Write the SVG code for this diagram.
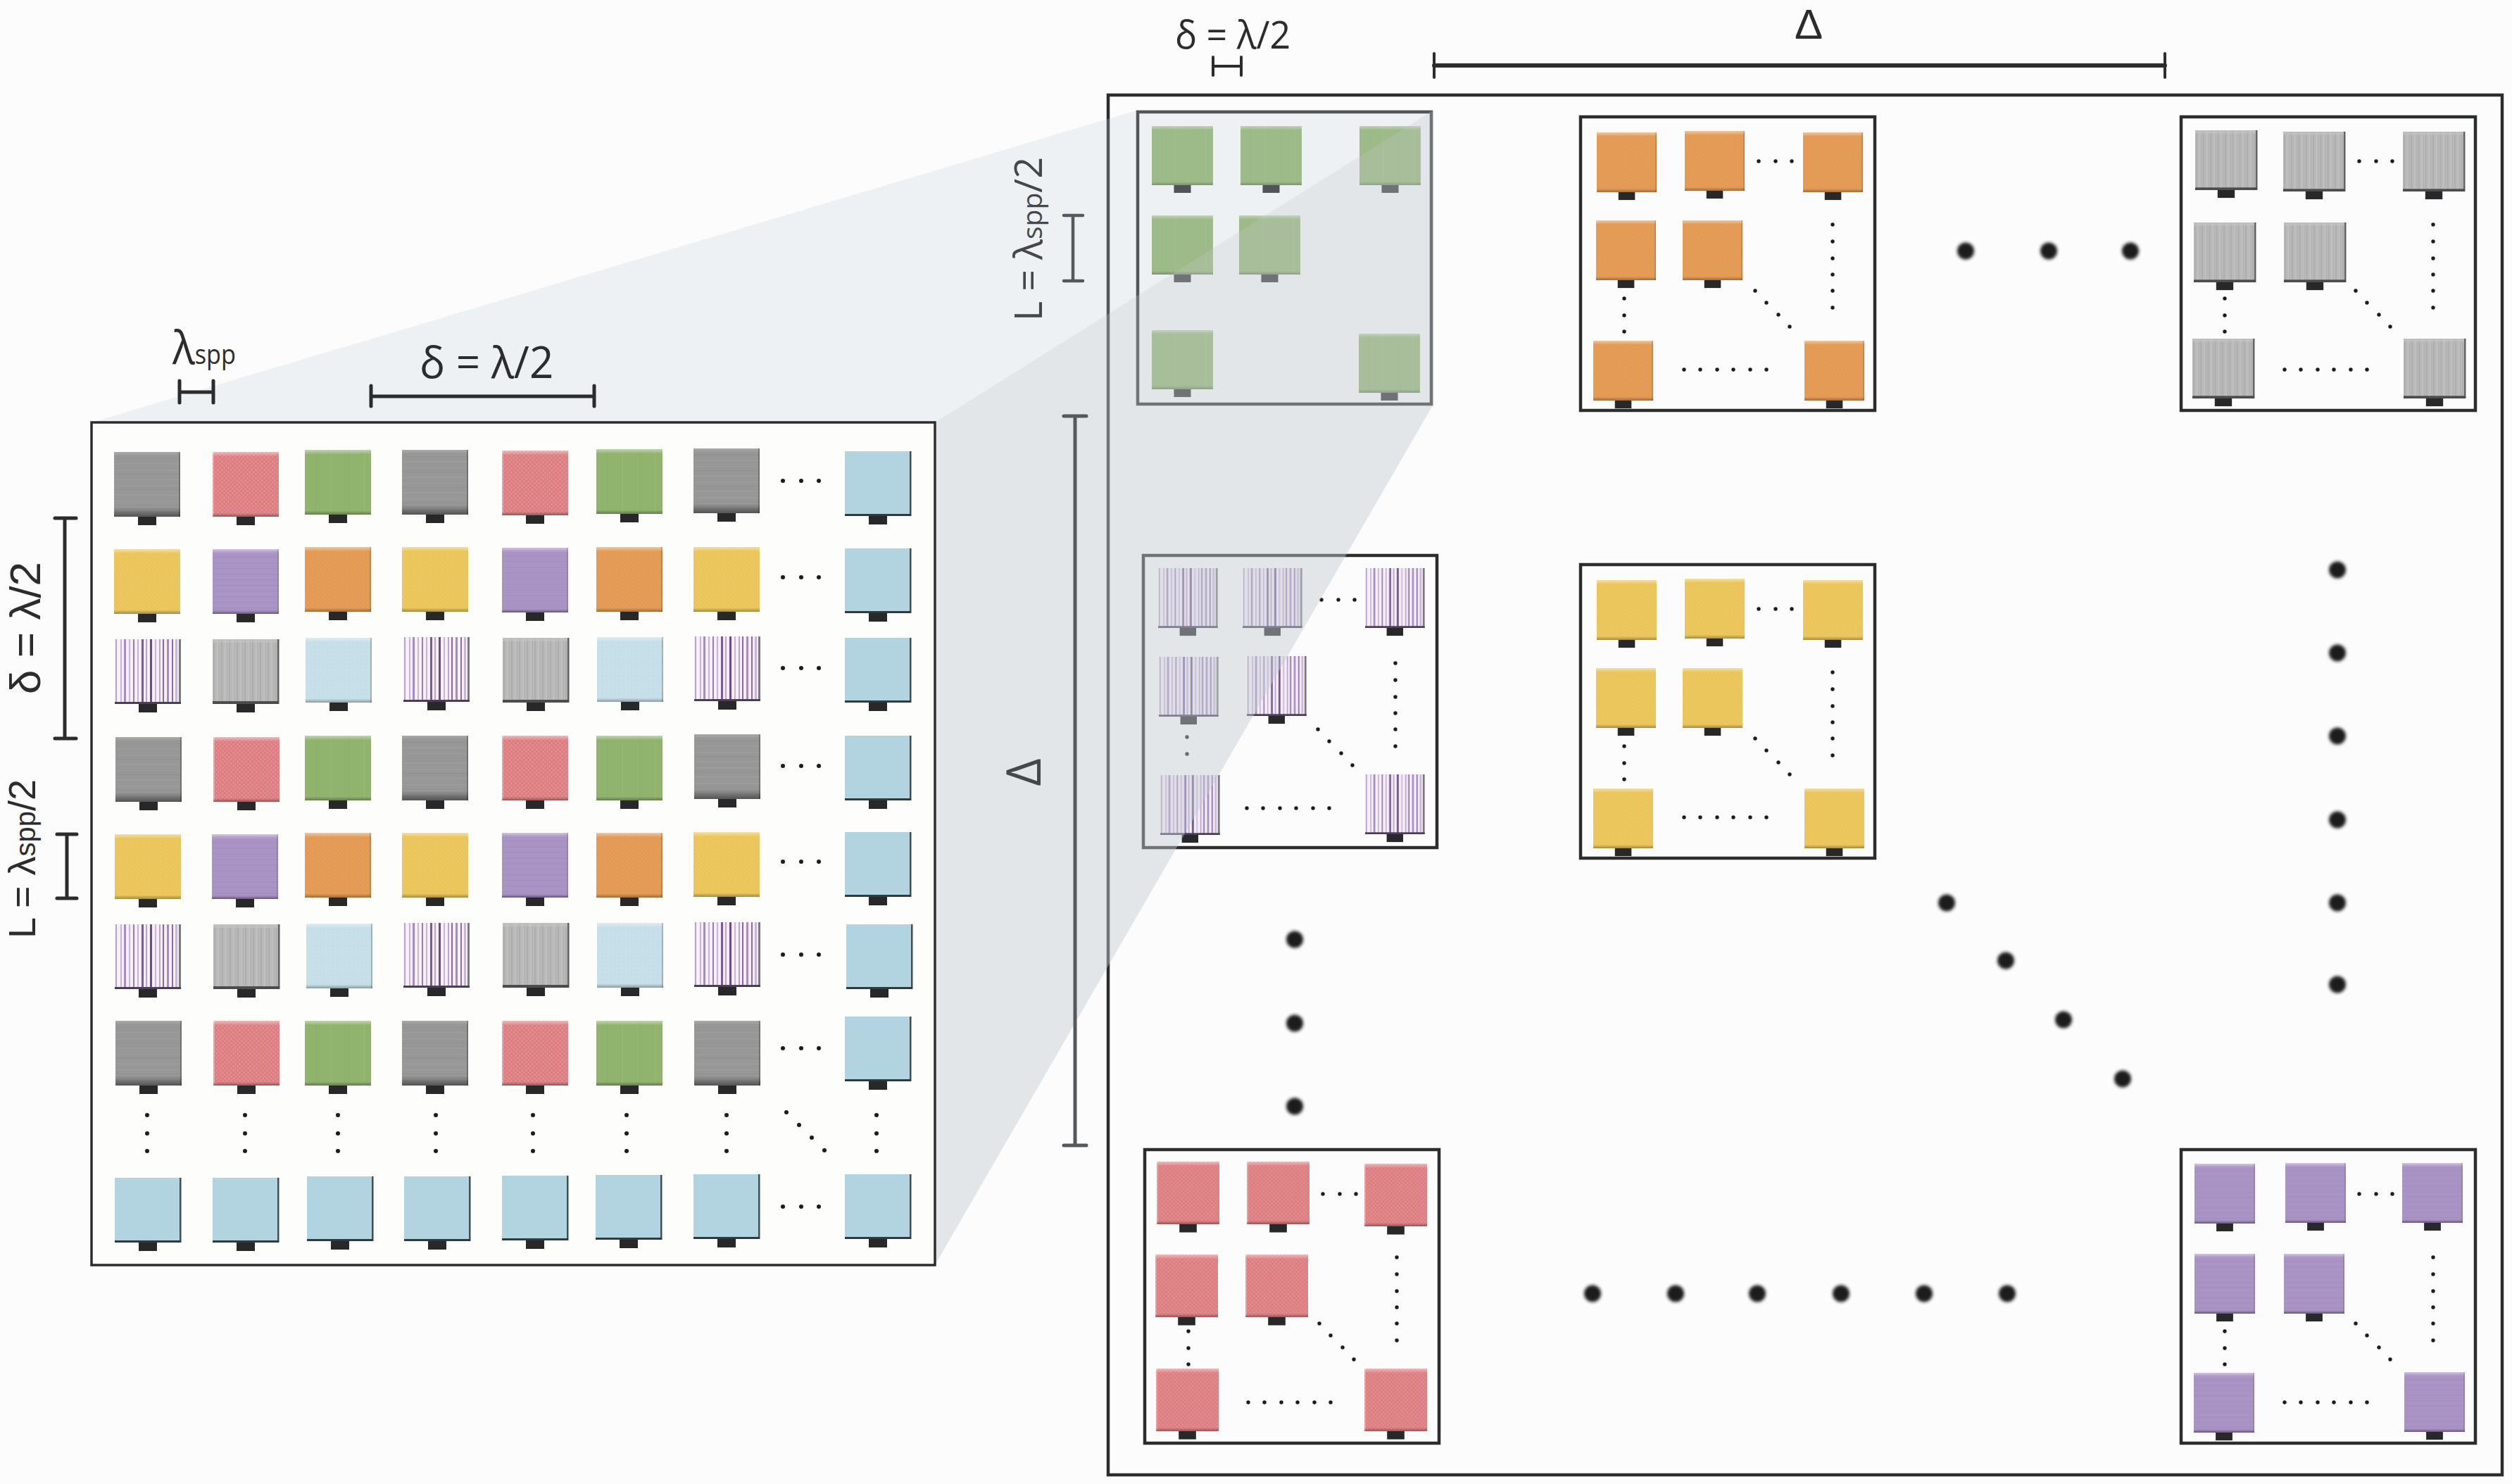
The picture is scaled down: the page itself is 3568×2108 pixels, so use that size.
<svg xmlns="http://www.w3.org/2000/svg" width="3568" height="2108" viewBox="0 0 3568 2108">
<style>
.fr{fill:none;stroke:#2b2c2e;stroke-width:4.5}
.bar{fill:none;stroke:#2b2c2e;stroke-linecap:round}
.barg{fill:none;stroke:#55585c;stroke-linecap:round}
.t{font-family:"Open Sans","DejaVu Sans",sans-serif;fill:#2b2c2e}
.e{font-family:"Liberation Sans","DejaVu Sans",sans-serif;fill:#2b2c2e}
.d{fill:#1c1c1e}
</style>
<defs>
<linearGradient id="bev" x1="0" y1="0" x2="0" y2="1">
<stop offset="0" stop-color="#fff" stop-opacity=".45"/><stop offset=".07" stop-color="#fff" stop-opacity="0"/><stop offset=".94" stop-color="#000" stop-opacity="0"/><stop offset="1" stop-color="#000" stop-opacity=".3"/>
</linearGradient>
<linearGradient id="bevg" x1="0" y1="0" x2="0" y2="1">
<stop offset="0" stop-color="#fff" stop-opacity=".2"/><stop offset=".05" stop-color="#fff" stop-opacity="0"/><stop offset=".85" stop-color="#000" stop-opacity="0"/><stop offset="1" stop-color="#000" stop-opacity=".45"/>
</linearGradient>
<pattern id="pgray" width="94" height="22" patternUnits="userSpaceOnUse"><rect width="94" height="22" fill="#979797"/><rect y="3" width="94" height="1.5" fill="#9d9d9d"/><rect y="9" width="94" height="1" fill="#909090"/><rect y="16" width="94" height="2" fill="#9c9c9c"/></pattern>
<pattern id="pred" width="6" height="6" patternUnits="userSpaceOnUse"><rect width="6" height="6" fill="#dc7e81"/><circle cx="1.5" cy="1.5" r="1.2" fill="#e79396"/><circle cx="4.5" cy="4.5" r="1.2" fill="#e79396"/></pattern>
<pattern id="pyel" width="6" height="6" patternUnits="userSpaceOnUse"><rect width="6" height="6" fill="#ecc75e"/><circle cx="1.5" cy="1.5" r="1" fill="#e7c157"/><circle cx="4.5" cy="4.5" r="1" fill="#e7c157"/></pattern>
<pattern id="pora" width="6" height="6" patternUnits="userSpaceOnUse"><rect width="6" height="6" fill="#e49c56"/><circle cx="1.5" cy="1.5" r="1" fill="#e09650"/><circle cx="4.5" cy="4.5" r="1" fill="#e09650"/></pattern>
<pattern id="ppur" width="94" height="8" patternUnits="userSpaceOnUse"><rect width="94" height="8" fill="#aa94c5"/><rect y="3" width="94" height="1.5" fill="#a48dbf"/></pattern>
<pattern id="pgrn" width="47" height="10" patternUnits="userSpaceOnUse"><rect width="47" height="10" fill="#90b36d"/><rect x="15" width="1" height="10" fill="#8bae68"/><rect x="36" width="1.5" height="10" fill="#95b773"/></pattern>
<pattern id="pgry2" width="11" height="10" patternUnits="userSpaceOnUse"><rect width="11" height="10" fill="#b9b9b9"/><rect x="1" width="2" height="10" fill="#adadad"/><rect x="6" width="1.5" height="10" fill="#c1c1c1"/><rect x="9" width="1" height="10" fill="#b0b0b0"/></pattern>
<pattern id="ppale" width="6" height="6" patternUnits="userSpaceOnUse"><rect width="6" height="6" fill="#c7dfe8"/><circle cx="1.5" cy="1.5" r="1" fill="#c1dae3"/></pattern>
<pattern id="pstr" width="94" height="10" patternUnits="userSpaceOnUse"><rect width="94" height="10" fill="#f6eff8"/>
<rect x="1" width="2" height="10" fill="#b9a3cc"/><rect x="8" width="2" height="10" fill="#c9b5d8"/><rect x="13" width="3" height="10" fill="#a78cc0"/><rect x="20" width="2" height="10" fill="#c9b5d8"/><rect x="26" width="2" height="10" fill="#9a7cb6"/><rect x="32" width="2" height="10" fill="#c9b5d8"/><rect x="38" width="3" height="10" fill="#7c5a9a"/><rect x="44" width="2" height="10" fill="#b9a3cc"/><rect x="50" width="3" height="10" fill="#6d4a8e"/><rect x="57" width="2" height="10" fill="#c9b5d8"/><rect x="63" width="2" height="10" fill="#b9a3cc"/><rect x="68" width="2" height="10" fill="#8a68a8"/><rect x="74" width="3" height="10" fill="#a78cc0"/><rect x="81" width="2" height="10" fill="#8f6cab"/><rect x="86" width="3" height="10" fill="#c9b5d8"/></pattern>
<rect id="foot" x="34" y="92" width="26" height="12" fill="#28282a"/>
<g id="gray"><rect width="94" height="92" fill="url(#pgray)"/><rect width="94" height="92" fill="url(#bevg)"/><rect x="92" width="2" height="92" fill="#000" opacity=".25"/><use href="#foot"/></g>
<g id="red"><rect width="94" height="92" fill="url(#pred)"/><rect width="94" height="92" fill="url(#bev)"/><rect width="2" height="92" fill="#fff" opacity=".25"/><rect y="90" width="94" height="2" fill="#a85a5e" opacity=".7"/><use href="#foot"/></g>
<g id="green"><rect width="94" height="92" fill="url(#pgrn)"/><rect width="94" height="92" fill="url(#bev)"/><use href="#foot"/></g>
<g id="yellow"><rect width="94" height="92" fill="url(#pyel)"/><rect width="94" height="92" fill="url(#bev)"/><use href="#foot"/></g>
<g id="purple"><rect width="94" height="92" fill="url(#ppur)"/><rect width="94" height="92" fill="url(#bev)"/><rect x="92" width="2" height="92" fill="#000" opacity=".12"/><rect y="90" width="94" height="2" fill="#6f5c8c" opacity=".7"/><use href="#foot"/></g>
<g id="orange"><rect width="94" height="92" fill="url(#pora)"/><rect width="94" height="92" fill="url(#bev)"/><rect x="92" width="2" height="92" fill="#000" opacity=".15"/><use href="#foot"/></g>
<g id="lgray"><rect width="94" height="92" fill="url(#pgry2)"/><rect width="94" height="5" fill="#c4c4c4" opacity=".6"/><rect x="92" width="2.5" height="92" fill="#5e5e5e"/><rect y="88" width="94" height="4" fill="#4c4c4c"/><use href="#foot"/></g>
<g id="stripe"><rect width="94" height="92" fill="url(#pstr)"/><rect x="91" width="3" height="92" fill="#7a7a7e"/><rect y="89" width="94" height="3" fill="#4a3f55"/><use href="#foot"/></g>
<g id="pale"><rect width="94" height="92" fill="url(#ppale)"/><rect width="94" height="92" fill="url(#bev)"/><rect x="92" width="2" height="92" fill="#000" opacity=".2"/><use href="#foot"/></g>
<g id="blue"><rect width="94" height="92" fill="#b1d4e0"/><rect width="94" height="6" fill="url(#bev)"/><rect x="92" width="2.5" height="92" fill="#3f4f57"/><rect y="89" width="94" height="3" fill="#2f3a40"/><use href="#foot"/></g>
<g id="subdots" class="d">
<circle cx="253" cy="63" r="2.7"/><circle cx="277" cy="63" r="2.7"/><circle cx="300" cy="63" r="2.7"/>
<circle cx="358" cy="153" r="2.7"/><circle cx="358" cy="177" r="2.7"/><circle cx="358" cy="201" r="2.7"/><circle cx="358" cy="224" r="2.7"/><circle cx="358" cy="247" r="2.7"/><circle cx="358" cy="271" r="2.7"/>
<circle cx="62" cy="258" r="2.7"/><circle cx="62" cy="282" r="2.7"/>
<circle cx="248" cy="247" r="2.7"/><circle cx="264" cy="264" r="2.7"/><circle cx="281" cy="281" r="2.7"/><circle cx="297" cy="298" r="2.7"/>
<circle cx="147" cy="359" r="2.7"/><circle cx="170" cy="359" r="2.7"/><circle cx="194" cy="359" r="2.7"/><circle cx="217" cy="359" r="2.7"/><circle cx="241" cy="359" r="2.7"/><circle cx="264" cy="359" r="2.7"/>
</g>
<g id="dots3"><circle cx="0" r="3" class="d"/><circle cx="26" r="3" class="d"/><circle cx="51" r="3" class="d"/></g>
<g id="vdots3"><circle cy="0" r="3" class="d"/><circle cy="26" r="3" class="d"/><circle cy="51" r="3" class="d"/></g>
<filter id="soft" x="-50%" y="-50%" width="200%" height="200%"><feGaussianBlur stdDeviation="2.2"/></filter>
</defs>
<rect width="3568" height="2108" fill="#fcfcfc"/>

<g id="right-panel">
<rect class="fr" x="1574" y="135" width="1980" height="1960"/>
<g id="big-dots" class="d" filter="url(#soft)" transform="translate(0 1.5)">
<circle cx="2792" cy="355" r="12"/><circle cx="2910" cy="355" r="12"/><circle cx="3026" cy="355" r="12"/>
<circle cx="3320" cy="808" r="12"/><circle cx="3320" cy="926" r="12"/><circle cx="3320" cy="1044" r="12"/><circle cx="3320" cy="1163" r="12"/><circle cx="3320" cy="1281" r="12"/><circle cx="3320" cy="1397" r="12"/>
<circle cx="2765" cy="1281" r="12"/><circle cx="2849" cy="1363" r="12"/><circle cx="2931" cy="1447" r="12"/><circle cx="3015" cy="1531" r="12"/>
<circle cx="2262" cy="1836" r="12"/><circle cx="2380" cy="1836" r="12"/><circle cx="2496" cy="1836" r="12"/><circle cx="2615" cy="1836" r="12"/><circle cx="2733" cy="1836" r="12"/><circle cx="2851" cy="1836" r="12"/>
<circle cx="1839" cy="1333" r="12"/><circle cx="1839" cy="1452" r="12"/><circle cx="1839" cy="1570" r="12"/>
</g>
<g id="box-green" transform="translate(1616 159)"><rect class="fr" width="417" height="415"/>
<use href="#green" transform="translate(20 20) scale(.925 .913)"/><use href="#green" transform="translate(146 20) scale(.925 .913)"/><use href="#green" transform="translate(315 20) scale(.925 .913)"/><use href="#green" transform="translate(20 147) scale(.925 .913)"/><use href="#green" transform="translate(144 147) scale(.925 .913)"/><use href="#green" transform="translate(20 310) scale(.925 .913)"/><use href="#green" transform="translate(314 315) scale(.925 .913)"/></g>
<g id="box-orange" transform="translate(2245 166)"><rect class="fr" width="418" height="417"/>
<use href="#orange" transform="translate(23 22) scale(.905 .924)"/><use href="#orange" transform="translate(148 20) scale(.905 .924)"/><use href="#orange" transform="translate(316 22) scale(.905 .924)"/><use href="#orange" transform="translate(22 147) scale(.905 .924)"/><use href="#orange" transform="translate(145 147) scale(.905 .924)"/><use href="#orange" transform="translate(18 318) scale(.905 .924)"/><use href="#orange" transform="translate(318 318) scale(.905 .924)"/><use href="#subdots"/><circle class="d" cx="62" cy="305" r="2.7"/></g>
<g id="box-gray" transform="translate(3098 166)"><rect class="fr" width="418" height="417"/>
<use href="#lgray" transform="translate(20 19) scale(.936 .924)"/><use href="#lgray" transform="translate(145 21) scale(.936 .924)"/><use href="#lgray" transform="translate(315 21) scale(.936 .924)"/><use href="#lgray" transform="translate(18 150) scale(.936 .924)"/><use href="#lgray" transform="translate(146 150) scale(.936 .924)"/><use href="#lgray" transform="translate(16 315) scale(.936 .924)"/><use href="#lgray" transform="translate(316 315) scale(.936 .924)"/><use href="#subdots"/><circle class="d" cx="62" cy="305" r="2.7"/></g>
<g id="box-stripe" transform="translate(1624 789)"><rect class="fr" width="417" height="415"/>
<use href="#stripe" transform="translate(21 18) scale(.9 .924)"/><use href="#stripe" transform="translate(141 18) scale(.9 .924)"/><use href="#stripe" transform="translate(315 18) scale(.9 .924)"/><use href="#stripe" transform="translate(22 144) scale(.9 .924)"/><use href="#stripe" transform="translate(147 143) scale(.9 .924)"/><use href="#stripe" transform="translate(24 312) scale(.9 .924)"/><use href="#stripe" transform="translate(315 311) scale(.9 .924)"/><use href="#subdots"/></g>
<g id="box-yellow" transform="translate(2245 802)"><rect class="fr" width="418" height="417"/>
<use href="#yellow" transform="translate(23 22) scale(.905 .924)"/><use href="#yellow" transform="translate(148 20) scale(.905 .924)"/><use href="#yellow" transform="translate(316 22) scale(.905 .924)"/><use href="#yellow" transform="translate(22 147) scale(.905 .924)"/><use href="#yellow" transform="translate(145 147) scale(.905 .924)"/><use href="#yellow" transform="translate(18 318) scale(.905 .924)"/><use href="#yellow" transform="translate(318 318) scale(.905 .924)"/><use href="#subdots"/><circle class="d" cx="62" cy="305" r="2.7"/></g>
<g id="box-red" transform="translate(1626 1633)"><rect class="fr" width="418" height="417"/>
<use href="#red" transform="translate(17 17) scale(.947 .967)"/><use href="#red" transform="translate(145 17) scale(.947 .967)"/><use href="#red" transform="translate(312 20) scale(.947 .967)"/><use href="#red" transform="translate(15 149) scale(.947 .967)"/><use href="#red" transform="translate(143 149) scale(.947 .967)"/><use href="#red" transform="translate(16 311) scale(.947 .967)"/><use href="#red" transform="translate(312 311) scale(.947 .967)"/><use href="#subdots"/><circle class="d" cx="62" cy="305" r="2.7"/></g>
<g id="box-purple" transform="translate(3098 1633)"><rect class="fr" width="418" height="417"/>
<use href="#purple" transform="translate(19 20) scale(.915 .924)"/><use href="#purple" transform="translate(148 19) scale(.915 .924)"/><use href="#purple" transform="translate(314 19) scale(.915 .924)"/><use href="#purple" transform="translate(19 148) scale(.915 .924)"/><use href="#purple" transform="translate(146 148) scale(.915 .924)"/><use href="#purple" transform="translate(18 317) scale(.915 .924)"/><use href="#purple" transform="translate(317 316) scale(.915 .924)"/><use href="#subdots"/><circle class="d" cx="62" cy="305" r="2.7"/></g>
</g>

<g id="wedge">
<polygon points="130,600 1614,157 2035,157 1328,600" fill="#c4d0db" opacity=".26"/>
<polygon points="1328,600 2035,157 2035,576 1328,1797" fill="#c6ccd2" opacity=".45"/>
</g>

<g id="right-labels">
<text class="t" transform="translate(1669 69) scale(.96 1)" font-size="54">δ = λ/2</text>
<path class="bar" stroke-width="4" d="M1723 81V107M1763 81V107"/><path class="bar" stroke-width="4" d="M1723 94H1763"/>
<path class="bar" stroke-width="4" d="M2037 76V110M3075 76V110"/><path class="bar" stroke-width="6" d="M2037 93H3075"/>
<text class="e" x="2569" y="55" font-size="60" text-anchor="middle">Δ</text>
<text class="t" style="fill:#44474b" transform="translate(1480 456) rotate(-90)" font-size="54">L = λ<tspan font-size="39">spp</tspan>/2</text>
<path class="barg" stroke-width="4.5" d="M1524 306V399M1511 306H1538M1511 399H1538"/>
<path class="barg" stroke-width="5" d="M1527 591V1627M1511 591H1543M1511 1627H1543"/>
<text class="t" style="fill:#44474b" transform="translate(1478 1097) rotate(-90)" font-size="68" text-anchor="middle">Δ</text>
</g>

<g id="left-panel">
<rect x="130" y="600" width="1198" height="1197" fill="#fdfdfc" stroke="#2b2c2e" stroke-width="3.5"/>
<use href="#gray" x="162" y="642"/><use href="#red" x="302" y="642"/><use href="#green" x="433" y="639"/><use href="#gray" x="571" y="639"/><use href="#red" x="713" y="640"/><use href="#green" x="847" y="638"/><use href="#gray" x="985" y="637"/><use href="#blue" x="1200" y="641"/>
<use href="#yellow" x="162" y="780"/><use href="#purple" x="302" y="780"/><use href="#orange" x="433" y="777"/><use href="#yellow" x="571" y="777"/><use href="#purple" x="713" y="778"/><use href="#orange" x="847" y="777"/><use href="#yellow" x="985" y="777"/><use href="#blue" x="1200" y="779"/>
<use href="#stripe" x="163" y="908"/><use href="#lgray" x="302" y="908"/><use href="#pale" x="434" y="906"/><use href="#stripe" x="573" y="905"/><use href="#lgray" x="714" y="906"/><use href="#pale" x="848" y="905"/><use href="#stripe" x="986" y="904"/><use href="#blue" x="1200" y="906"/>
<use href="#gray" x="164" y="1047"/><use href="#red" x="303" y="1047"/><use href="#green" x="433" y="1045"/><use href="#gray" x="571" y="1045"/><use href="#red" x="713" y="1045"/><use href="#green" x="847" y="1045"/><use href="#gray" x="986" y="1043"/><use href="#blue" x="1200" y="1045"/>
<use href="#yellow" x="163" y="1185"/><use href="#purple" x="301" y="1185"/><use href="#orange" x="433" y="1183"/><use href="#yellow" x="571" y="1183"/><use href="#purple" x="713" y="1183"/><use href="#orange" x="847" y="1183"/><use href="#yellow" x="985" y="1182"/><use href="#blue" x="1200" y="1182"/>
<use href="#stripe" x="163" y="1313"/><use href="#lgray" x="303" y="1313"/><use href="#pale" x="435" y="1312"/><use href="#stripe" x="573" y="1311"/><use href="#lgray" x="714" y="1311"/><use href="#pale" x="848" y="1311"/><use href="#stripe" x="986" y="1310"/><use href="#blue" x="1202" y="1313"/>
<use href="#gray" x="164" y="1450"/><use href="#red" x="303" y="1450"/><use href="#green" x="433" y="1450"/><use href="#gray" x="571" y="1450"/><use href="#red" x="713" y="1450"/><use href="#green" x="847" y="1450"/><use href="#gray" x="986" y="1450"/><use href="#blue" x="1200" y="1444"/>
<use href="#blue" x="163" y="1673"/><use href="#blue" x="302" y="1673"/><use href="#blue" x="436" y="1671"/><use href="#blue" x="574" y="1671"/><use href="#blue" x="713" y="1670"/><use href="#blue" x="846" y="1669"/><use href="#blue" x="985" y="1668"/><use href="#blue" x="1200" y="1668"/>
<use href="#dots3" x="1112" y="683"/><use href="#dots3" x="1112" y="820"/><use href="#dots3" x="1112" y="949"/><use href="#dots3" x="1112" y="1088"/><use href="#dots3" x="1112" y="1224"/><use href="#dots3" x="1112" y="1356"/><use href="#dots3" x="1112" y="1489"/><use href="#dots3" x="1112" y="1714"/>
<use href="#vdots3" x="209" y="1584"/><use href="#vdots3" x="348" y="1584"/><use href="#vdots3" x="480" y="1584"/><use href="#vdots3" x="619" y="1584"/><use href="#vdots3" x="757" y="1584"/><use href="#vdots3" x="890" y="1584"/><use href="#vdots3" x="1032" y="1584"/><use href="#vdots3" x="1245" y="1584"/>
<circle class="d" cx="1117" cy="1580" r="3"/><circle class="d" cx="1135" cy="1598" r="3"/><circle class="d" cx="1153" cy="1616" r="3"/><circle class="d" cx="1171" cy="1634" r="3"/>
</g>

<g id="left-labels">
<text class="t" transform="translate(245 517) scale(.9 1)" font-size="66">λ<tspan font-size="38">spp</tspan></text>
<path class="bar" stroke-width="5" d="M255 541V572M303 541V572M255 557H303"/>
<text class="t" transform="translate(596 537) scale(.97 1)" font-size="62">δ = λ/2</text>
<path class="bar" stroke-width="5" d="M527 548V577M844 548V577M527 563H844"/>
<path class="bar" stroke-width="5" d="M92 736V1049M78 736H108M78 1049H108"/>
<text class="e" transform="translate(57 986) rotate(-90)" font-size="62">δ = λ/2</text>
<path class="bar" stroke-width="5" d="M95 1185V1276M81 1185H109M81 1276H109"/>
<text class="e" transform="translate(50 1333) rotate(-90)" font-size="54">L = λ<tspan font-size="40">spp</tspan>/2</text>
</g>
</svg>
